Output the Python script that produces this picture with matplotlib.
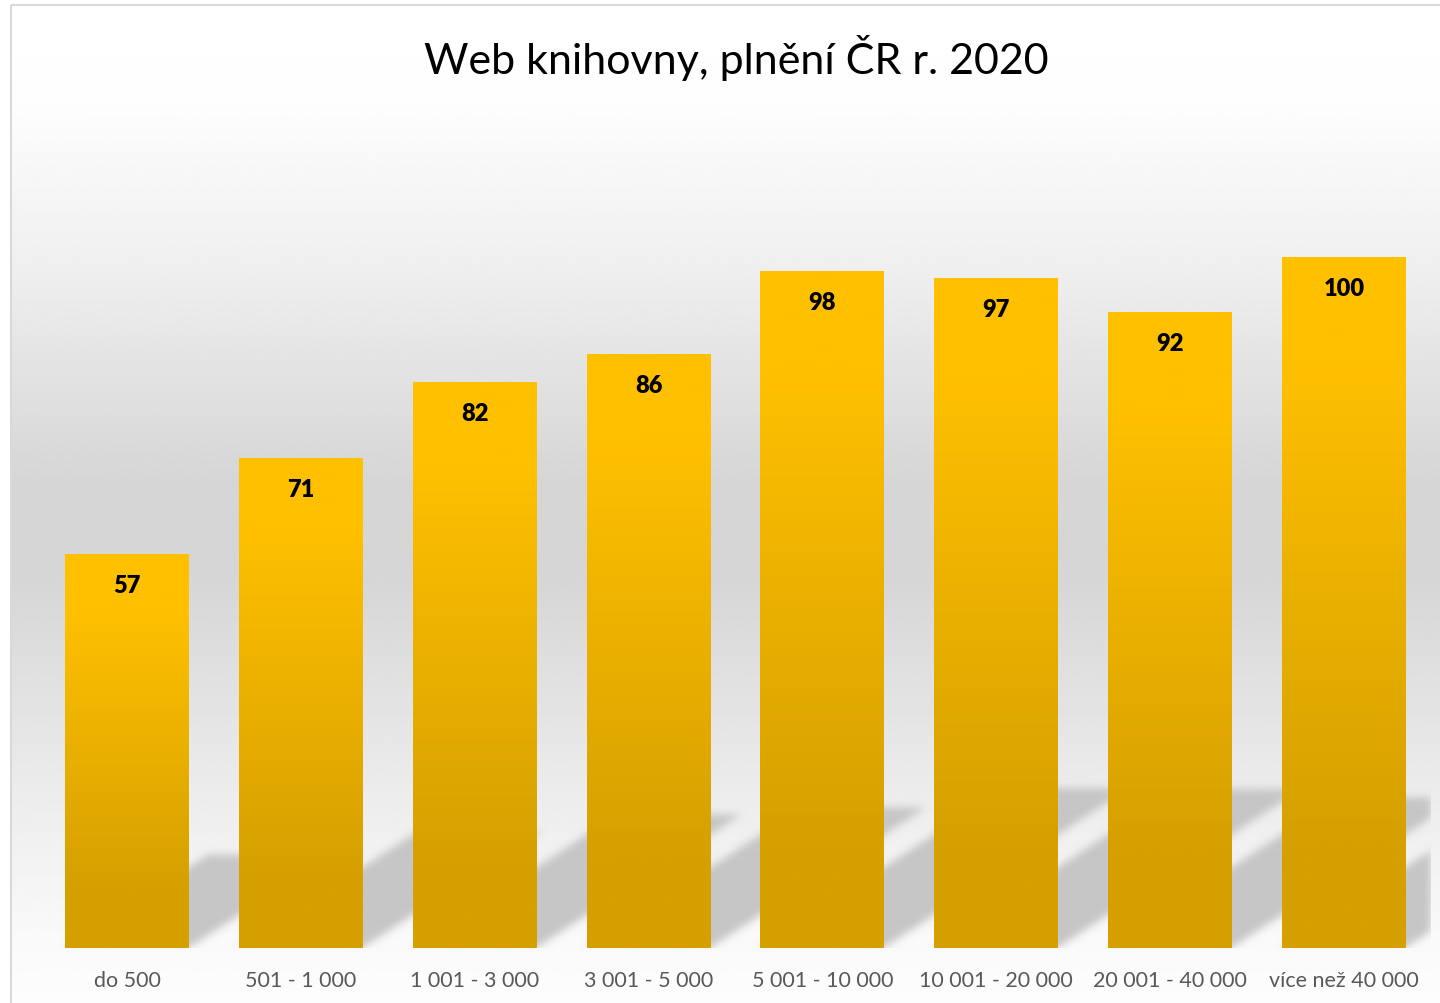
"""
Bar chart: web knihovny, plneni CR r. 2020 (Excel-like look).
"""

import numpy as np
import matplotlib
matplotlib.use("Agg")
import matplotlib.pyplot as plt
from matplotlib.patches import Rectangle

categories = [
    "do 500",
    "501 - 1 000",
    "1 001 - 3 000",
    "3 001 - 5 000",
    "5 001 - 10 000",
    "10 001 - 20 000",
    "20 001 - 40 000",
    "více než 40 000",
]
values = [57, 71, 82, 86, 98, 97, 92, 100]
title = "Web knihovny, plnění ČR r. 2020"

plt.rcParams["font.family"] = ["Lato", "DejaVu Sans"]

W, H = 1440, 1004
fig = plt.figure(figsize=(W / 100, H / 100), dpi=100)


def gaussian_blur(arr, sigma=4):
    pad = 3 * sigma
    out = np.pad(arr, pad, "constant")
    k = np.arange(-pad, pad + 1)
    weights = np.exp(-k**2 / (2.0 * sigma**2))
    weights /= weights.sum()
    for axis in (0, 1):
        acc = np.zeros_like(out)
        for shift, w in zip(k, weights):
            acc += w * np.roll(out, shift, axis=axis)
        out = acc
    return out[pad:-pad, pad:-pad]


# Background: chart frame with vertical gray gradient
bg = fig.add_axes([0, 0, 1, 1], zorder=-2)
bg.set_xlim(0, W)
bg.set_ylim(H, 0)
bg.axis("off")
stops_y = [0.0, 0.1, 0.25, 0.47, 0.57, 0.78, 0.92, 1.0]
stops_v = [255, 253, 240, 214, 214, 236, 249, 253]
ys = np.linspace(0, 1, 512)
grad = np.interp(ys, stops_y, stops_v) / 255.0
bg.imshow(
    np.repeat(grad[:, None], 2, axis=1),
    cmap="gray", vmin=0, vmax=1,
    extent=(11, W + 20, H + 10, 6),
    aspect="auto", interpolation="bilinear",
)
bg.add_patch(Rectangle((11, 6), W + 40, H + 40, fill=False,
                       edgecolor="#d9d9d9", linewidth=1.5))

# Main plot area
ax = fig.add_axes([40 / W, 55 / H, 1391 / W, 829 / H])
ax.patch.set_alpha(0)
x = np.arange(len(values))
bar_width = 0.713
xmin, xmax = -0.5, len(values) - 0.5
ymax = 120

bars = ax.bar(x, values, width=bar_width, facecolor="none",
              edgecolor="none", zorder=3)

# Perspective shadows going to the upper right, rasterized and blurred
shadow_scale = 0.236
shadow_skew = 0.0144
sh_top = 30.0
nx, ny = 1391, int(round(829 * sh_top / ymax))
gx = np.linspace(xmin, xmax, nx)
gy = np.linspace(sh_top, 0, ny)
GX, GY = np.meshgrid(gx, gy)
U = GY / shadow_scale
mask = np.zeros_like(GX)
for xi, v in zip(x, values):
    shift = shadow_skew * U
    inside = ((GX >= xi - bar_width / 2 + shift)
              & (GX <= xi + bar_width / 2 + shift) & (U <= v))
    mask[inside] = 1.0
# keep the base edge sharp: mirror below zero before blurring
pad_rows = 20
full = np.vstack([mask, np.zeros((pad_rows, nx))])
blurred = gaussian_blur(full, sigma=4)[:ny]
shadow = np.zeros((ny, nx, 4))
shadow[..., :3] = 198 / 255.0
shadow[..., 3] = np.clip(blurred, 0, 1)
ax.imshow(shadow, extent=(xmin, xmax, 0, sh_top), aspect="auto",
          interpolation="bilinear", zorder=1)

# Bar gradient fill, clipped to each bar
grad_t = np.linspace(0, 1, 256)
ramp = np.clip((grad_t - 0.15) / 0.7, 0, 1)
top_rgb = np.array([255, 192, 0]) / 255.0
bot_rgb = np.array([213, 160, 0]) / 255.0
bar_img = (top_rgb[None, :] * (1 - ramp[:, None])
           + bot_rgb[None, :] * ramp[:, None])[:, None, :]
for rect, v in zip(bars, values):
    x0 = rect.get_x()
    im = ax.imshow(
        bar_img, extent=(x0, x0 + rect.get_width(), 0, v),
        origin="upper", aspect="auto", interpolation="bilinear", zorder=2,
    )
    im.set_clip_path(rect)

for xi, v in zip(x, values):
    ax.annotate(
        str(v), (xi, v), xytext=(0, -31), textcoords="offset pixels",
        ha="center", va="center", fontsize=17, fontweight="heavy",
        color="black", zorder=4,
    )

ax.set_xlim(xmin, xmax)
ax.set_ylim(0, ymax)
ax.set_xticks(x, categories)
ax.tick_params(axis="x", length=0, pad=16, labelsize=15.5,
               labelcolor="#595959")
ax.set_yticks([])
for spine in ax.spines.values():
    spine.set_visible(False)

fig.text(736 / W, 1 - 58 / H, title, ha="center", va="center",
         fontsize=31, color="black")

fig.savefig("out.png", dpi=100)
